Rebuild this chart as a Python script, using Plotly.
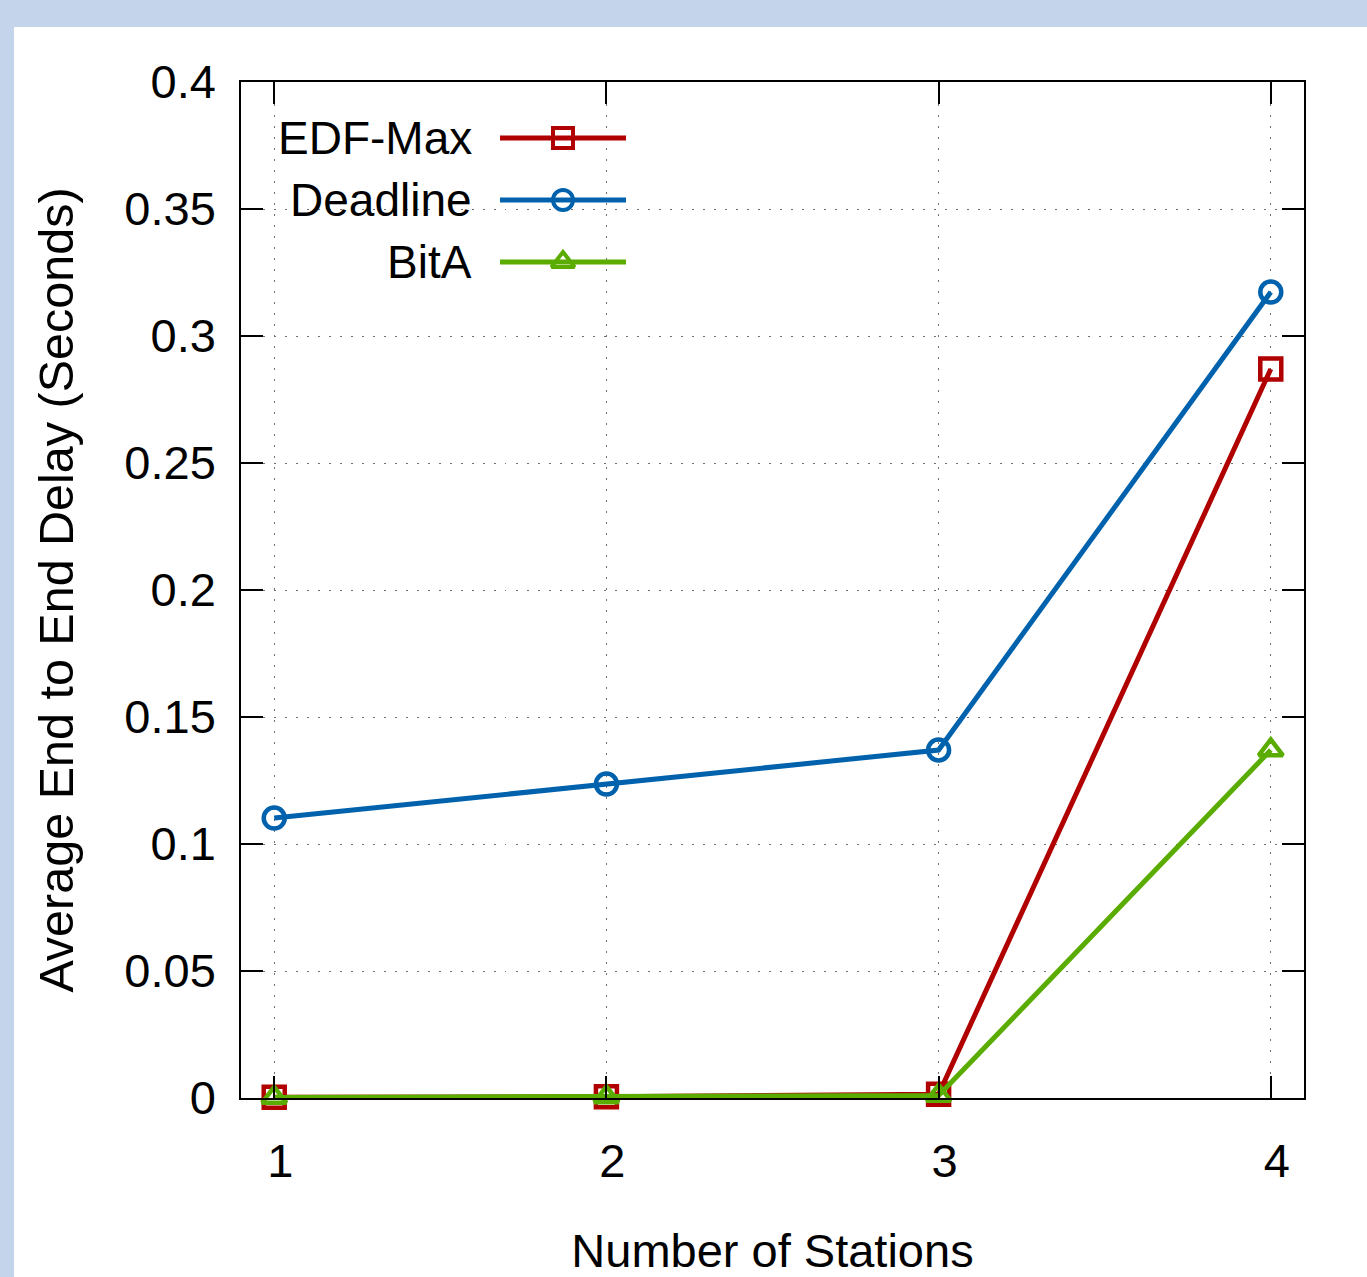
import plotly.graph_objects as go

# ---- data ----
stations = [1, 2, 3, 4]
edf_max = [0.0003, 0.0005, 0.0015, 0.287]
deadline = [0.1102, 0.1236, 0.137, 0.3173]
bita = [0.0002, 0.0004, 0.001, 0.137]
series_names = ["EDF-Max", "Deadline", "BitA"]
y_tickvals = [0, 0.05, 0.1, 0.15, 0.2, 0.25, 0.3, 0.35, 0.4]
y_ticktext = ["0", "0.05", "0.1", "0.15", "0.2", "0.25", "0.3", "0.35", "0.4"]
x_ticktext = ["1", "2", "3", "4"]

RED = "#b00000"
BLUE = "#0062ad"
GREEN = "#5aac00"
FONT = "Liberation Sans, Arial, sans-serif"
FS = 47

W, H = 1367, 1277
L, R, T, B = 241, 63, 82, 179
PW, PH = W - L - R, H - T - B


def px(x):
    return (x - L) / PW


def py(y):
    return (H - B - y) / PH


styles = [
    (edf_max, RED, "square-open"),
    (deadline, BLUE, "circle-open"),
    (bita, GREEN, "triangle-up-open"),
]

fig = go.Figure()
for (vals, color, sym), name in zip(styles, series_names):
    fig.add_trace(go.Scatter(
        x=stations, y=vals, mode="lines+markers", name=name,
        line=dict(color=color, width=5),
        marker=dict(symbol=sym, size=21, color=color, line=dict(color=color, width=4.5)),
        cliponaxis=False, showlegend=False,
    ))

# ---- custom gnuplot-style key (text left, sample right) ----
key_rows = [py(138), py(200), py(262)]
annotations = []
for (vals, color, sym), name, ky in zip(styles, series_names, key_rows):
    fig.add_trace(go.Scatter(
        x=[px(500), px(626)], y=[ky, ky], mode="lines",
        line=dict(color=color, width=5), xaxis="x2", yaxis="y2",
        showlegend=False, hoverinfo="skip", cliponaxis=False,
    ))
    fig.add_trace(go.Scatter(
        x=[px(563)], y=[ky], mode="markers",
        marker=dict(symbol=sym, size=20, color=color, line=dict(color=color, width=4)),
        xaxis="x2", yaxis="y2", showlegend=False, hoverinfo="skip", cliponaxis=False,
    ))
    annotations.append(dict(
        x=px(474), y=ky, xref="paper", yref="paper", text=name, showarrow=False,
        xanchor="right", yanchor="middle", font=dict(family=FONT, size=46, color="black"),
    ))

BORDER = "#c4d4ea"
shapes = [
    # light-blue frame strips (top and left)
    dict(type="rect", xref="paper", yref="paper", x0=px(-5), x1=px(W + 5), y0=py(27), y1=py(-5),
         fillcolor=BORDER, line=dict(width=0), layer="below"),
    dict(type="rect", xref="paper", yref="paper", x0=px(-5), x1=px(14), y0=py(H + 5), y1=py(-5),
         fillcolor=BORDER, line=dict(width=0), layer="below"),
    # opaque key background
    dict(type="rect", xref="paper", yref="paper", x0=px(243), x1=px(648), y0=py(288), y1=py(84),
         fillcolor="white", line=dict(width=0), layer="between"),
]

axis_common = dict(
    showline=True, linecolor="black", linewidth=1.5, mirror="ticks",
    ticks="inside", ticklen=22, tickwidth=1.5, tickcolor="black",
    showgrid=True, gridcolor="#707070", gridwidth=1.3, griddash="1.5px,9.5px",
    zeroline=False, automargin=True,
    tickfont=dict(family=FONT, size=FS, color="black"),
)

fig.update_layout(
    width=W, height=H, autosize=False,
    margin=dict(l=L, r=R, t=T, b=B, pad=0, autoexpand=False),
    paper_bgcolor="white", plot_bgcolor="white",
    shapes=shapes, annotations=annotations,
    xaxis=dict(
        range=[0.9, 4.1], tickvals=stations, ticktext=x_ticktext,
        title=dict(text="Number of Stations", font=dict(family=FONT, size=FS, color="black"), standoff=50),
        ticklabelstandoff=21, ticklabelshift=6,
        **axis_common,
    ),
    yaxis=dict(
        range=[0, 0.4], tickvals=y_tickvals, ticktext=y_ticktext,
        title=dict(text="Average End to End Delay (Seconds)", font=dict(family=FONT, size=48.5, color="black"), standoff=35),
        ticklabelstandoff=14,
        **axis_common,
    ),
    xaxis2=dict(range=[0, 1], overlaying="x", visible=False, fixedrange=True),
    yaxis2=dict(range=[0, 1], overlaying="y", visible=False, fixedrange=True),
    showlegend=False,
)

fig.write_html(
    "out.html",
    config={"displayModeBar": False, "responsive": False},
    post_script="document.body.style.margin='0';document.body.style.padding='0';"
                "document.body.style.overflow='hidden';document.documentElement.style.overflow='hidden';",
)
